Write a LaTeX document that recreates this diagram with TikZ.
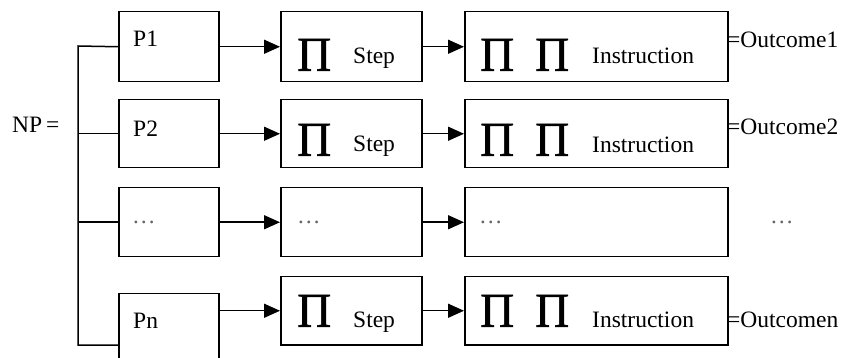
\documentclass[tikz,border=0pt]{standalone}
\usepackage{fontspec}
\setmainfont{Liberation Serif}
\newfontfamily\pifont{Liberation Serif}[FakeBold=1.2]
\usetikzlibrary{arrows.meta}
% large product sign used inside the Step and Instruction boxes
\newcommand{\bigPi}{\resizebox{34pt}{32pt}{\pifont Π}}
\begin{document}
\begin{tikzpicture}[x=1pt,y=-1pt,
  box/.style={draw, line width=1.5pt, rectangle, inner sep=0pt, anchor=north west},
  lbl/.style={inner sep=0pt, anchor=base west, font=\fontsize{23.5}{27}\selectfont},
  dots/.style={lbl, text=black!60},
  pisym/.style={inner sep=0pt, anchor=south west},
  wire/.style={line width=1.5pt},
  arr/.style={wire, -{Triangle[length=16pt,width=14pt]}}]
\useasboundingbox (0,0) rectangle (844,358);

\begin{scope}
\clip (0,0) rectangle (844,358);
% process boxes
\node[box, minimum width=100pt, minimum height=70pt] (p1) at (118,11) {};
\node[box, minimum width=100pt, minimum height=68pt] (p2) at (118,99) {};
\node[box, minimum width=100pt, minimum height=69pt] (p3) at (118,187) {};
\node[box, minimum width=100pt, minimum height=80pt] (pn) at (118,293) {};
% step boxes
\node[box, minimum width=141pt, minimum height=70pt] (s1) at (280,11) {};
\node[box, minimum width=141pt, minimum height=68pt] (s2) at (280,99) {};
\node[box, minimum width=141pt, minimum height=69pt] (s3) at (280,187) {};
\node[box, minimum width=141pt, minimum height=68pt] (s4) at (280,276) {};
% instruction boxes
\node[box, minimum width=263pt, minimum height=70pt] (i1) at (464,11) {};
\node[box, minimum width=263pt, minimum height=68pt] (i2) at (464,99) {};
\node[box, minimum width=263pt, minimum height=69pt] (i3) at (464,187) {};
\node[box, minimum width=263pt, minimum height=68pt] (i4) at (464,276) {};
\end{scope}

% branching bus on the left
\coordinate (bustop) at (78,46);
\coordinate (busbot) at (78,345);
\draw[wire] (p1.west) -- (bustop) -- (busbot) -- (busbot -| pn.west);
\draw[wire] (p2.west) -- (p2.west -| bustop);
\draw[wire] (p3.west) -- (p3.west -| bustop);

% arrows along each row
\draw[arr] (p1.east) -- (s1.west);
\draw[arr] (p2.east) -- (s2.west);
\draw[arr] (p3.east) -- (s3.west);
\draw[arr] (pn.east |- s4.west) -- (s4.west);
\draw[arr] (s1.east) -- (i1.west);
\draw[arr] (s2.east) -- (i2.west);
\draw[arr] (s3.east) -- (i3.west);
\draw[arr] (s4.east) -- (i4.west);

% labels
\node[lbl] (np) at (12,133) {NP\,=};
\node[lbl] (tp1) at (133,47) {P1};
\node[lbl] (tp2) at (133,137) {P2};
\node[dots] (tp3) at (132,224) {…};
\node[lbl] (tpn) at (133,329) {Pn};

\node[pisym] (ps1) at (297,71) {\bigPi};
\node[pisym] (ps2) at (297,156) {\bigPi};
\node[pisym] (ps4) at (297,327) {\bigPi};
\node[lbl] (ts1) at (353,64) {Step};
\node[lbl] (ts2) at (353,152) {Step};
\node[dots] (ts3) at (297,224) {…};
\node[lbl] (ts4) at (353,327) {Step};

\node[pisym] (pa1) at (480,71) {\bigPi};
\node[pisym] (pb1) at (535,71) {\bigPi};
\node[pisym] (pa2) at (480,156) {\bigPi};
\node[pisym] (pb2) at (535,156) {\bigPi};
\node[pisym] (pa4) at (480,327) {\bigPi};
\node[pisym] (pb4) at (535,327) {\bigPi};
\node[lbl] (ti1) at (592,64) {Instruction};
\node[lbl] (ti2) at (592,153) {Instruction};
\node[dots] (ti3) at (479,224) {…};
\node[lbl] (ti4) at (592,327) {Instruction};

\node[lbl] (o1) at (727,48) {=Outcome1};
\node[lbl] (o2) at (727,135) {=Outcome2};
\node[dots] (o3) at (770,224) {…};
\node[lbl] (on) at (727,327) {=Outcomen};
\end{tikzpicture}
\end{document}
